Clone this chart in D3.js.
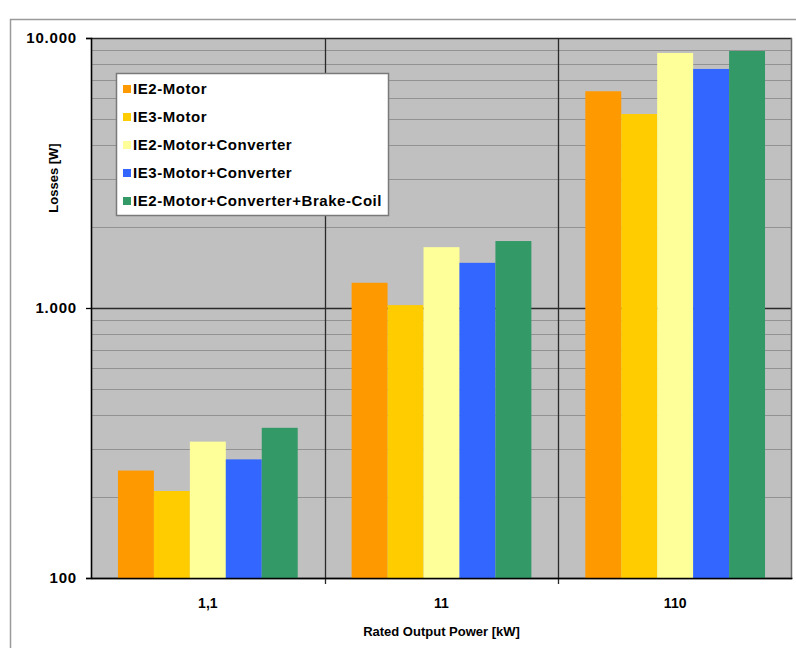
<!DOCTYPE html>
<html>
<head>
<meta charset="utf-8">
<script src="https://cdn.jsdelivr.net/npm/d3@7"></script>
<style>
  html, body { margin: 0; padding: 0; background: #fff; }
  svg { display: block; }
  text { font-family: "Liberation Sans", Arial, sans-serif; fill: #000; }
</style>
</head>
<body>
<svg id="chart" width="796" height="648"></svg>
<script>
// ---- data ----
const categories = ["1,1", "11", "110"];
const seriesNames = ["IE2-Motor", "IE3-Motor", "IE2-Motor+Converter", "IE3-Motor+Converter", "IE2-Motor+Converter+Brake-Coil"];
const ie2Motor = [250, 1240, 6350];
const ie3Motor = [210, 1025, 5230];
const ie2MotorConverter = [320, 1680, 8800];
const ie3MotorConverter = [275, 1470, 7680];
const ie2MotorConverterBrake = [360, 1770, 8950];
const seriesColors = ["#FF9900", "#FFCC00", "#FFFF99", "#3366FF", "#339966"];
const yTickValues = [100, 1000, 10000];
const yTickLabels = ["100", "1.000", "10.000"];
const xTitle = "Rated Output Power [kW]";
const yTitle = "Losses [W]";

const seriesValues = [ie2Motor, ie3Motor, ie2MotorConverter, ie3MotorConverter, ie2MotorConverterBrake];

// ---- layout ----
const svg = d3.select("#chart");
const L = 91, R = 792, T = 38, B = 578;

// outer frame
svg.append("path")
  .attr("d", "M10.5,650 L10.5,19.5 L800,19.5")
  .attr("fill", "none").attr("stroke", "#9a9a9a").attr("stroke-width", 1.5);

const x = d3.scaleBand().domain(categories).range([L, R]).paddingInner(0).paddingOuter(0);
const xs = d3.scaleBand().domain(seriesNames).range([0, x.bandwidth()]).paddingInner(0).paddingOuter(0.75);
const y = d3.scaleLog().domain([100, 10000]).range([B, T]);

// plot background
svg.append("rect").attr("x", L).attr("y", T).attr("width", R - L).attr("height", B - T).attr("fill", "#C0C0C0");

// minor gridlines
const minor = [];
[100, 1000].forEach(d => { for (let k = 2; k <= 9; k++) minor.push(d * k); });
svg.append("g").selectAll("line").data(minor).join("line")
  .attr("x1", L).attr("x2", R)
  .attr("y1", d => Math.round(y(d)) + 0.5).attr("y2", d => Math.round(y(d)) + 0.5)
  .attr("stroke", "#929292").attr("stroke-width", 1);

// major gridlines
svg.append("g").selectAll("line").data(yTickValues).join("line")
  .attr("x1", L).attr("x2", R)
  .attr("y1", d => Math.round(y(d)) + 0.5).attr("y2", d => Math.round(y(d)) + 0.5)
  .attr("stroke", "#2a2a2a").attr("stroke-width", 1.3);

// vertical category dividers
const dividers = categories.slice(1).map(c => x(c));
svg.append("g").selectAll("line").data(dividers).join("line")
  .attr("x1", d => Math.round(d) + 0.5).attr("x2", d => Math.round(d) + 0.5)
  .attr("y1", T).attr("y2", B + 6)
  .attr("stroke", "#2a2a2a").attr("stroke-width", 1.3);

// bars
const g = svg.append("g");
seriesValues.forEach((vals, si) => {
  g.selectAll(null).data(vals.map((v, ci) => ({ v, c: categories[ci] }))).join("rect")
    .attr("x", d => x(d.c) + xs(seriesNames[si]))
    .attr("width", xs.bandwidth())
    .attr("y", d => y(d.v))
    .attr("height", d => B - y(d.v))
    .attr("fill", seriesColors[si]);
});

// plot border right
svg.append("line").attr("x1", R - 0.5).attr("x2", R - 0.5).attr("y1", T).attr("y2", B)
  .attr("stroke", "#6a6a6a").attr("stroke-width", 1.5);

// y axis
const yAxis = d3.axisLeft(y).tickValues(yTickValues).tickFormat((d, i) => yTickLabels[i]).tickSize(5).tickPadding(9);
const ya = svg.append("g").attr("transform", `translate(${L},0)`).call(yAxis);
ya.select(".domain").attr("stroke", "#000").attr("stroke-width", 1.6);
ya.selectAll(".tick line").attr("stroke", "#000").attr("stroke-width", 1.3);
ya.selectAll(".tick text").style("font-size", "15px").style("font-weight", "bold")
  .style("letter-spacing", "0.8px").attr("fill", "#111");

// x axis
const xAxis = d3.axisBottom(x).tickSize(0).tickPadding(20);
const xa = svg.append("g").attr("transform", `translate(0,${B})`).call(xAxis);
xa.select(".domain").attr("stroke", "#000").attr("stroke-width", 1.6);
xa.selectAll(".tick text").style("font-size", "14px").style("font-weight", "bold").attr("fill", "#111");

// axis titles
svg.append("text").attr("x", (L + R) / 2).attr("y", 636).attr("text-anchor", "middle")
  .style("font-size", "13px").style("font-weight", "bold").text(xTitle);
svg.append("text").attr("transform", "translate(58,178) rotate(-90)").attr("text-anchor", "middle")
  .style("font-size", "13px").style("font-weight", "bold").text(yTitle);

// legend
const lg = svg.append("g");
lg.append("rect").attr("x", 116.5).attr("y", 73.5).attr("width", 272).attr("height", 142)
  .attr("fill", "#fff").attr("stroke", "#7a7a7a").attr("stroke-width", 1.5);
seriesNames.forEach((name, i) => {
  const cy = 89 + i * 28;
  lg.append("rect").attr("x", 123).attr("y", cy - 4).attr("width", 8).attr("height", 8).attr("fill", seriesColors[i]);
  lg.append("text").attr("x", 133).attr("y", cy).attr("dy", "0.36em")
    .style("font-size", "15px").style("font-weight", "bold").style("letter-spacing", "0.55px")
    .attr("fill", "#1a1a2a").text(name);
});
</script>
</body>
</html>
